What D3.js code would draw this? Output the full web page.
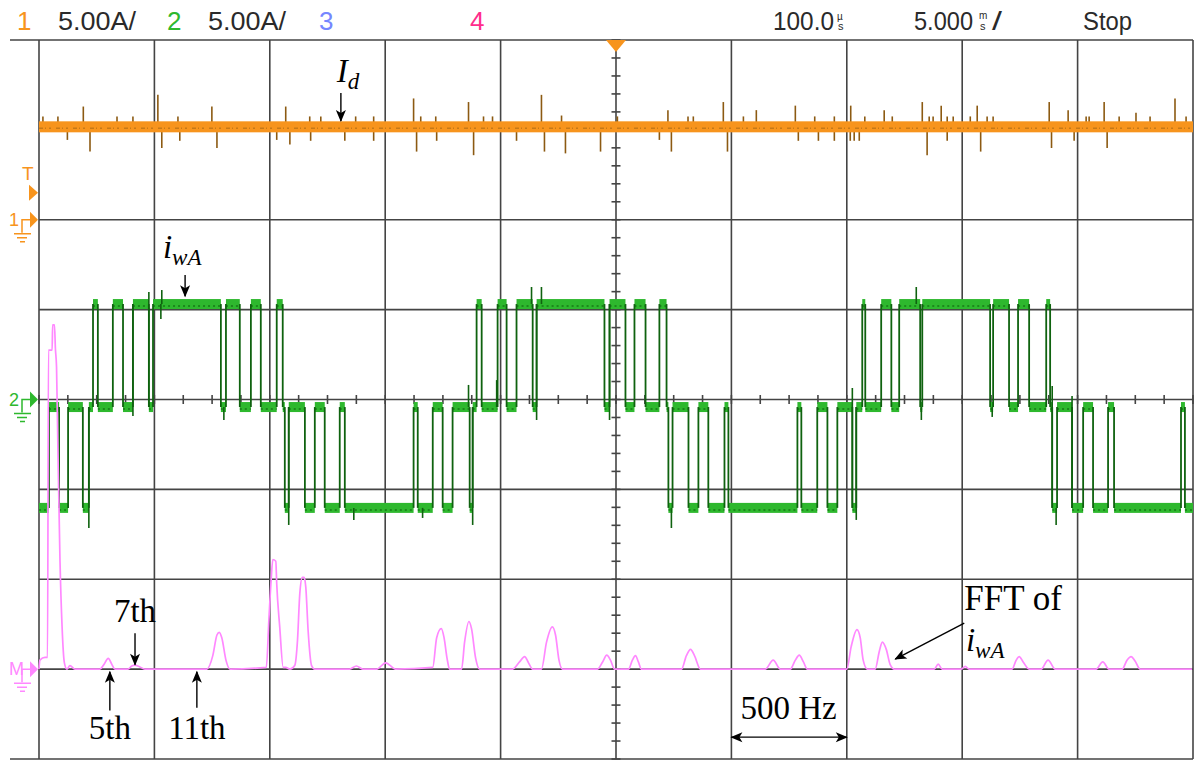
<!DOCTYPE html>
<html>
<head>
<meta charset="utf-8">
<script src="https://cdn.jsdelivr.net/npm/d3@7"></script>
<style>
body { margin: 0; background: #fff; }
svg { display: block; }
.hdr { font-family: "Liberation Sans", Arial, sans-serif; font-size: 26px; }
.tex { font-family: "Liberation Serif", "Times New Roman", serif; fill: #000; }
</style>
</head>
<body>
<svg id="scope" width="1196" height="760"></svg>
<script>
// ---- Data ----
// channel 2 (i_wA): segment start times (ms) and level codes
const segStart = [0.00, 0.43, 0.87, 1.26, 1.90, 2.16, 2.34, 2.55, 3.20, 3.64, 4.07, 4.76, 4.94, 7.88, 8.10, 8.70,
	9.18, 9.61, 10.30, 10.56, 10.65, 10.82, 11.52, 11.95, 12.38, 13.03, 13.25, 16.23, 16.41, 17.06, 17.49,
	17.92, 18.66, 18.79, 18.96, 19.18, 19.87, 20.26, 20.69, 21.39, 21.56, 24.50, 24.72, 25.41, 25.80, 26.28,
	26.88, 27.19, 27.27, 27.45, 28.14, 28.57, 29.00, 29.70, 29.87, 32.86, 33.03, 33.72, 34.16, 34.59, 35.24,
	35.41, 35.67, 35.80, 36.49, 36.93, 37.27, 38.18, 38.27, 41.21, 41.34, 42.03, 42.42, 42.90, 43.64, 43.81,
	43.90, 44.11, 44.76, 45.24, 45.67, 46.32, 46.58, 49.48, 49.65];
const segLevel = ["L", "Z", "L", "Z", "L", "Z", "H", "Z", "H", "Z", "H", "Z", "H", "Z", "H", "Z",
	"H", "Z", "H", "Z", "L", "Z", "L", "Z", "L", "Z", "L", "Z", "L", "Z", "L",
	"Z", "L", "Z", "H", "Z", "H", "Z", "H", "Z", "H", "Z", "H", "Z", "H", "Z",
	"H", "Z", "L", "Z", "L", "Z", "L", "Z", "L", "Z", "L", "Z", "L", "Z", "L",
	"Z", "H", "Z", "H", "Z", "H", "Z", "H", "Z", "H", "Z", "H", "Z", "H", "Z",
	"L", "Z", "L", "Z", "L", "Z", "L", "Z", "L"];
const levelAmps = { H: 5.31, Z: -0.42, L: -6.03 };
const traceEnd = 50;
// overshoot spikes on channel 2: [time ms, peak A]
const ch2Spikes = [[2.16, -7.15], [4.07, -0.92], [4.76, 5.98], [5.28, 4.48], [5.32, 6.09], [8.01, -1.14],
	[10.82, -6.98], [13.64, -6.70], [16.62, -6.59], [18.61, 0.81], [18.79, -6.98], [19.83, 1.08],
	[21.34, 6.26], [21.56, -1.14], [21.77, 6.26], [24.72, -1.14], [27.40, -7.15], [35.24, 0.64],
	[35.41, -6.70], [38.01, 6.26], [38.23, -1.14], [41.30, -0.97], [43.90, 0.75], [44.07, -6.98], [44.76, 0.19]];

// channel 1 (I_d): dc level (A) and noise spikes [time ms, deviation A]
const idLevel = 5.17;
const idSpikes = [[0.17, 0.3], [0.82, 0.3], [1.92, 0.85], [3.38, 0.3], [4.07, 0.3], [5.15, 1.5], [6.02, 0.3],
	[7.49, 0.85], [10.69, 0.85], [11.73, 0.3], [12.21, 0.3], [13.72, 0.3], [14.50, 0.3], [16.23, 1.3],
	[16.54, 0.3], [17.19, 0.3], [18.61, 1.1], [19.26, 0.3], [19.65, 0.3], [21.77, 1.5], [22.64, 0.35],
	[25.06, 0.3], [27.25, 0.65], [28.12, 0.3], [28.35, 0.3], [29.65, 1.1], [30.52, 0.3], [31.08, 0.65],
	[32.77, 0.9], [33.61, 0.3], [34.46, 0.3], [35.17, 0.9], [35.78, 0.3], [36.62, 0.65], [36.97, 0.3],
	[38.27, 1.1], [38.57, 0.3], [38.74, 0.3], [39.09, 0.9], [39.35, 0.3], [39.61, 0.3], [40.35, 0.3],
	[40.65, 0.9], [41.08, 0.3], [41.34, 0.3], [43.77, 1.1], [44.59, 0.65], [45.37, 0.3], [45.50, 0.3],
	[46.15, 1.1], [46.80, 0.3], [47.53, 0.5], [48.14, 0.3], [49.22, 1.3], [49.70, 0.3],
	[1.23, -0.45], [2.21, -1.1], [5.32, -0.9], [6.10, -0.5], [7.71, -0.9], [10.30, -0.45], [10.87, -0.7],
	[11.77, -0.5], [13.25, -0.5], [14.50, -0.5], [16.36, -1.1], [17.23, -0.5], [18.83, -1.3], [20.69, -0.5],
	[21.90, -1.1], [22.81, -1.2], [24.33, -1.1], [26.88, -0.45], [27.40, -1.1], [29.83, -1.1], [32.90, -0.5],
	[33.77, -0.5], [34.46, -0.5], [35.15, -0.5], [35.32, -0.5], [35.54, -0.5], [38.48, -1.3], [39.35, -0.5],
	[40.80, -1.1], [43.87, -0.9], [44.85, -0.5], [46.28, -0.9]];

// math channel (FFT of i_wA): frequency (Hz) and magnitude (div)
const fftFreq = [0, 4, 26, 37, 41, 57, 59, 67, 71, 76, 82, 91, 100, 110, 121, 134, 156,
	264, 281, 300, 316, 329, 385, 402, 416, 433, 459,
	727, 753, 771, 781, 792, 810, 827,
	985, 996, 1006, 1013, 1026, 1030, 1043, 1058, 1069, 1087,
	1108, 1120, 1130, 1141, 1149, 1156, 1166, 1181, 1195,
	1346, 1375, 1403, 1463, 1502, 1545,
	1706, 1723, 1743, 1755, 1768, 1779, 1831, 1844, 1863, 1874, 1892, 1909,
	2052, 2082, 2104, 2121, 2139, 2177, 2199, 2224, 2238, 2253, 2268,
	2420, 2442, 2460, 2476, 2494, 2554, 2571, 2584, 2597, 2610, 2784, 2805, 2823, 2840, 2866,
	3147, 3181, 3212, 3255, 3277, 3294, 3312, 3329,
	3500, 3519, 3544, 3558, 3571, 3589, 3623, 3641, 3654, 3671, 3688, 3706,
	3879, 3896, 3913, 3996, 4013, 4030, 4216, 4234, 4247, 4264, 4290, 4342, 4372, 4403,
	4580, 4609, 4636, 4693, 4714, 4732, 4749, 4771, 4996];
const fftMag = [0, 0.1, 0.13, 0.13, 3.55, 3.55, 3.83, 3.83, 3.57, 3.36, 2.44, 1.2, 0.47, 0.07, 0, 0.04, 0,
	0, 0.05, 0.12, 0.05, 0, 0, 0.035, 0.045, 0.03, 0,
	0, 0.15, 0.38, 0.41, 0.35, 0.1, 0,
	0.02, 0.55, 1.0, 1.22, 1.2, 0.95, 0.47, 0.02, 0.02, 0,
	0.04, 0.32, 0.84, 1.02, 1.02, 0.91, 0.43, 0.04, 0,
	0, 0.035, 0, 0, 0.07, 0,
	0.02, 0.35, 0.45, 0.35, 0.12, 0, 0, 0.3, 0.53, 0.45, 0.12, 0,
	0, 0.08, 0.14, 0.07, 0, 0, 0.3, 0.47, 0.38, 0.1, 0,
	0, 0.08, 0.155, 0.1, 0, 0, 0.1, 0.15, 0.08, 0, 0, 0.15, 0.22, 0.15, 0,
	0, 0.1, 0, 0, 0.1, 0.155, 0.08, 0,
	0, 0.25, 0.44, 0.35, 0.1, 0, 0, 0.2, 0.3, 0.22, 0.05, 0,
	0, 0.055, 0, 0, 0.03, 0, 0, 0.1, 0.14, 0.08, 0, 0, 0.1, 0,
	0, 0.08, 0, 0, 0.1, 0.14, 0.09, 0, 0];

// header readouts
const chanLabels = ["1", "2", "3", "4"];
const chanScales = ["5.00A/", "5.00A/", "", ""];

// ---- Layout ----
const svg = d3.select("#scope");
const plot = { left: 39, right: 1193, top: 40, bottom: 759 };
const colors = { ch1: "#f7941d", ch1Dark: "#8c5a12", ch2: "#2eb82e", ch2Dark: "#0f620f",
	ch3: "#7686ff", ch4: "#ff2d8c", math: "#ff88ff", grid: "#444", text: "#2a2a2a" };

const x = d3.scaleLinear().domain([0, 50]).range([plot.left, plot.right]);
const fx = d3.scaleLinear().domain([0, 5000]).range([plot.left, plot.right]);
const yDiv = d3.scaleLinear().domain([-4, 4]).range([plot.bottom, plot.top]);
const y1 = d3.scaleLinear().domain([-30, 10]).range([plot.bottom, plot.top]);   // ch1, 5 A/div, ground +2 div
const y2 = d3.scaleLinear().domain([-20, 20]).range([plot.bottom, plot.top]);   // ch2, 5 A/div, ground 0
const yM = d3.scaleLinear().domain([-1, 7]).range([plot.bottom, plot.top]);     // math, ground -3 div

// Grid
const grid = svg.append("g").attr("stroke", colors.grid).attr("stroke-width", 1.6);
grid.selectAll(".v").data(x.ticks(10)).enter().append("line")
	.attr("x1", d => x(d)).attr("x2", d => x(d))
	.attr("y1", plot.top).attr("y2", plot.bottom);
grid.selectAll(".h").data(yDiv.ticks(8)).enter().append("line")
	.attr("x1", d => (d === 4 || d === -4) ? 10 : plot.left).attr("x2", plot.right)
	.attr("y1", d => yDiv(d)).attr("y2", d => yDiv(d));

// Minor ticks on the centre axes
grid.selectAll(".mx").data(d3.range(0, 50.01, 1.25)).enter().append("line")
	.attr("x1", d => x(d)).attr("x2", d => x(d))
	.attr("y1", yDiv(0) - 4.5).attr("y2", yDiv(0) + 4.5);
grid.selectAll(".my").data(d3.range(-4, 4.01, 0.2)).enter().append("line")
	.attr("x1", x(25) - 4.5).attr("x2", x(25) + 4.5)
	.attr("y1", d => yDiv(d)).attr("y2", d => yDiv(d));

// ---- Channel 2 trace ----
const segs = segStart.map((t, i) => ({
	t0: t,
	t1: i + 1 < segStart.length ? segStart[i + 1] : traceEnd,
	v: levelAmps[segLevel[i]]
}));
const ch2 = svg.append("g");
ch2.selectAll("rect").data(segs).enter().append("rect")
	.attr("x", d => x(d.t0)).attr("width", d => Math.max(1, x(d.t1) - x(d.t0)))
	.attr("y", d => y2(d.v) - 5).attr("height", 10)
	.attr("fill", colors.ch2);
ch2.selectAll(".tex2").data(segs).enter().append("line")
	.attr("x1", d => x(d.t0)).attr("x2", d => x(d.t1))
	.attr("y1", d => y2(d.v) + 2).attr("y2", d => y2(d.v) + 2)
	.attr("stroke", colors.ch2Dark).attr("stroke-width", 2)
	.attr("stroke-dasharray", "2,3").attr("opacity", 0.55);
ch2.selectAll(".edge").data(segs.slice(1)).enter().append("line")
	.attr("x1", d => x(d.t0)).attr("x2", d => x(d.t0))
	.attr("y1", (d, i) => y2(segs[i].v)).attr("y2", d => y2(d.v))
	.attr("stroke", colors.ch2Dark).attr("stroke-width", 1.8);
const bisect = d3.bisector(d => d.t0).right;
ch2.selectAll(".spk").data(ch2Spikes).enter().append("line")
	.attr("x1", d => x(d[0])).attr("x2", d => x(d[0]))
	.attr("y1", d => y2(segs[Math.max(0, bisect(segs, d[0]) - 1)].v)).attr("y2", d => y2(d[1]))
	.attr("stroke", colors.ch2Dark).attr("stroke-width", 1.6);

// ---- Channel 1 trace ----
const ch1 = svg.append("g");
ch1.selectAll("line").data(idSpikes).enter().append("line")
	.attr("x1", d => x(d[0])).attr("x2", d => x(d[0]))
	.attr("y1", y1(idLevel)).attr("y2", d => y1(idLevel + d[1]) - (d[1] > 0 ? 5 : -5))
	.attr("stroke", colors.ch1Dark).attr("stroke-width", 1.6);
ch1.append("rect")
	.attr("x", x(0)).attr("width", x(traceEnd) - x(0))
	.attr("y", y1(idLevel) - 5.5).attr("height", 11)
	.attr("fill", colors.ch1);
ch1.append("line")
	.attr("x1", x(0)).attr("x2", x(traceEnd))
	.attr("y1", y1(idLevel) + 1.5).attr("y2", y1(idLevel) + 1.5)
	.attr("stroke", colors.ch1Dark).attr("stroke-width", 1.5)
	.attr("stroke-dasharray", "4,2,1,3,2,5").attr("opacity", 0.45);

// ---- FFT trace ----
const fftLine = d3.line()
	.x((d, i) => fx(fftFreq[i]))
	.y(d => yM(d))
	.curve(d3.curveMonotoneX);
svg.append("path").datum(fftMag)
	.attr("d", fftLine)
	.attr("fill", "none")
	.attr("stroke", colors.math)
	.attr("stroke-width", 1.7);

// ---- Header ----
const hdr = svg.append("g").attr("class", "hdr");
const chanColors = [colors.ch1, colors.ch2, colors.ch3, colors.ch4];
const chanX = [17, 167, 319, 470];
chanLabels.forEach((c, i) => {
	hdr.append("text").attr("x", chanX[i]).attr("y", 30).attr("fill", chanColors[i]).text(c);
	if (chanScales[i]) {
		hdr.append("text").attr("x", chanX[i] + 41).attr("y", 30).attr("fill", colors.text)
			.attr("textLength", 78).attr("lengthAdjust", "spacingAndGlyphs").text(chanScales[i]);
	}
});
function hdrText(xp, yp, s, len, size) {
	const t = hdr.append("text").attr("x", xp).attr("y", yp).attr("fill", colors.text).text(s);
	if (len) t.attr("textLength", len).attr("lengthAdjust", "spacingAndGlyphs");
	if (size) t.style("font-size", size + "px");
	return t;
}
hdrText(773, 30, "100.0", 61);
hdrText(837, 20, "µ", null, 10);
hdrText(838, 30, "s", null, 11);
hdrText(914, 30, "5.000", 59);
hdrText(979, 19, "m", null, 10);
hdrText(980, 30, "s", null, 11);
hdrText(992, 30, "/", 10);
hdrText(1083, 30, "Stop", 49);

// Trigger position marker
svg.append("path")
	.attr("d", `M${x(25) - 10},${plot.top} L${x(25) + 10},${plot.top} L${x(25)},${plot.top + 12} Z`)
	.attr("fill", colors.ch1);

// ---- Left-side ground markers ----
function groundMarker(yPix, color, label) {
	const g = svg.append("g").attr("stroke", color).attr("fill", "none").attr("stroke-width", 1.5);
	g.append("text").attr("x", 9).attr("y", yPix + 6).attr("stroke", "none").attr("fill", color)
		.attr("class", "hdr").style("font-size", "18px").text(label);
	g.append("path").attr("d", `M22,${yPix + 13} V${yPix} H30`);
	g.append("path").attr("d", `M30,${yPix - 8} L38,${yPix} L30,${yPix + 8} Z`).attr("fill", color).attr("stroke", "none");
	g.append("path").attr("d", `M14,${yPix + 14} H31 M17,${yPix + 18} H27 M20,${yPix + 22} H25`);
}
groundMarker(y1(0), colors.ch1, "1");
groundMarker(y2(0), colors.ch2, "2");
groundMarker(yM(0), colors.math, "M");

// Trigger level marker
svg.append("text").attr("x", 22).attr("y", 180).attr("class", "hdr").style("font-size", "19px")
	.attr("fill", colors.ch1).text("T");
svg.append("path").attr("d", `M29,${y1(1.5) - 8} L38,${y1(1.5)} L29,${y1(1.5) + 8} Z`).attr("fill", colors.ch1);

// ---- Annotations ----
const defs = svg.append("defs");
defs.append("marker").attr("id", "ah").attr("viewBox", "-12 -6 14 12")
	.attr("refX", 0).attr("refY", 0).attr("markerWidth", 14).attr("markerHeight", 12)
	.attr("markerUnits", "userSpaceOnUse").attr("orient", "auto-start-reverse")
	.append("path").attr("d", "M1,0 L-11,-5 L-8,0 L-11,5 Z").attr("fill", "#000");

const ann = svg.append("g").attr("stroke", "#000").attr("stroke-width", 1.4);
function arrow(x1, yA, x2, yB, both) {
	const l = ann.append("line").attr("x1", x1).attr("y1", yA).attr("x2", x2).attr("y2", yB)
		.attr("marker-end", "url(#ah)");
	if (both) l.attr("marker-start", "url(#ah)");
}
// I_d
arrow(x(13.08), y1(7.05), x(13.08), y1(5.5));
// i_wA
arrow(x(6.33), y2(6.93), x(6.33), y2(5.75));
// harmonics
arrow(fx(416), yM(0.40), fx(416), yM(0.05));
arrow(fx(307), yM(-0.46), fx(307), yM(-0.03));
arrow(fx(684), yM(-0.43), fx(684), yM(-0.03));
// FFT of i_wA
arrow(fx(4009), yM(0.513), fx(3710), yM(0.112));
// 500 Hz span
arrow(fx(3000), yM(-0.757), fx(3500), yM(-0.757), true);

const txt = svg.append("g").attr("class", "tex");
function mathLabel(xp, yp, main, sub, size) {
	const t = txt.append("text").attr("x", xp).attr("y", yp).style("font-size", size + "px");
	t.append("tspan").style("font-style", "italic").text(main);
	t.append("tspan").style("font-style", "italic").style("font-size", (size * 0.7) + "px")
		.attr("dy", size * 0.2).text(sub);
	return t;
}
mathLabel(x(12.9), y1(7.66), "I", "d", 33);
mathLabel(x(5.37), y2(7.87), "i", "wA", 33);
txt.append("text").attr("x", fx(416)).attr("y", yM(0.52)).attr("text-anchor", "middle")
	.style("font-size", "33px").text("7th");
txt.append("text").attr("x", fx(307)).attr("y", yM(-0.78)).attr("text-anchor", "middle")
	.style("font-size", "33px").text("5th");
txt.append("text").attr("x", fx(684)).attr("y", yM(-0.78)).attr("text-anchor", "middle")
	.style("font-size", "33px").text("11th");
txt.append("text").attr("x", fx(4009)).attr("y", yM(0.657)).style("font-size", "35px").text("FFT of");
mathLabel(fx(4016), yM(0.2), "i", "wA", 33);
txt.append("text").attr("x", fx(3039)).attr("y", yM(-0.555)).style("font-size", "33px").text("500 Hz");
</script>
</body>
</html>
